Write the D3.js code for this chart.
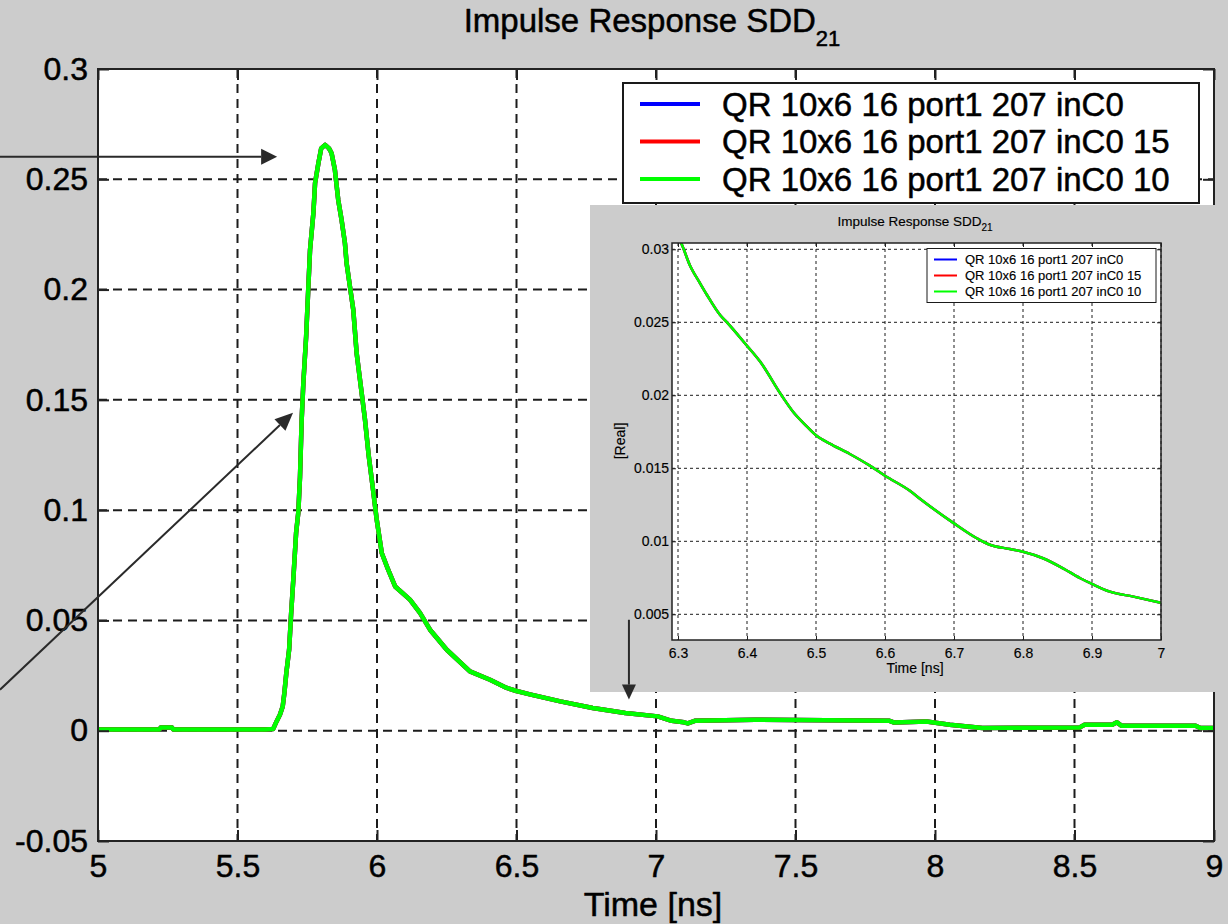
<!DOCTYPE html>
<html>
<head>
<meta charset="utf-8">
<script src="https://cdn.jsdelivr.net/npm/d3@7"></script>
<style>
  html, body { margin: 0; padding: 0; background: #cccccc; }
  svg { display: block; }
  text { font-family: "Liberation Sans", Arial, sans-serif; fill: #000; }
</style>
</head>
<body>
<svg id="chart" width="1228" height="924"></svg>
<script>
// ---- series ----
const seriesNames = [
  'QR 10x6 16 port1 207 inC0',
  'QR 10x6 16 port1 207 inC0 15',
  'QR 10x6 16 port1 207 inC0 10'
];
const seriesColors = ['#0000ff', '#ff0000', '#00ff00'];

// full time window, 5 .. 9 ns
const timeMain = [
  5.000, 5.220, 5.225, 5.265, 5.270, 5.600, 5.628, 5.640, 5.652, 5.662,
  5.668, 5.675, 5.685, 5.692, 5.700, 5.710, 5.718, 5.724, 5.730, 5.736,
  5.746, 5.754, 5.760, 5.772, 5.778, 5.790, 5.800, 5.814, 5.828, 5.837,
  5.849, 5.861, 5.873, 5.885, 5.891, 5.903, 5.915, 5.927, 5.945, 5.957,
  5.970, 5.985, 5.999, 6.017, 6.040, 6.065, 6.118, 6.154, 6.190, 6.250,
  6.333, 6.405, 6.465, 6.500, 6.548, 6.657, 6.773, 6.890, 7.006, 7.056,
  7.100, 7.114, 7.139, 7.355, 7.837, 7.854, 7.970, 8.053, 8.170, 8.519,
  8.536, 8.635, 8.652, 8.668, 8.934, 8.951, 9.000
];
const respMain = [
  0.0005, 0.0005, 0.0015, 0.0015, 0.0005, 0.0005, 0.0008, 0.0042, 0.0072, 0.0110,
  0.0171, 0.0262, 0.0367, 0.0526, 0.0685, 0.0896, 0.0990, 0.1150, 0.1410, 0.1576,
  0.1787, 0.2014, 0.2180, 0.2347, 0.2483, 0.2573, 0.2640, 0.2656, 0.2640, 0.2619,
  0.2543, 0.2407, 0.2316, 0.2211, 0.2120, 0.2014, 0.1908, 0.1712, 0.1531, 0.1410,
  0.1250, 0.1100, 0.0957, 0.0806, 0.0730, 0.0654, 0.0594, 0.0534, 0.0458, 0.0367,
  0.0269, 0.0231, 0.0194, 0.0180, 0.0165, 0.0133, 0.0103, 0.0080, 0.0065, 0.0045,
  0.0038, 0.0033, 0.0045, 0.0050, 0.0045, 0.0037, 0.0042, 0.0027, 0.0012, 0.0015,
  0.0027, 0.0027, 0.0038, 0.0023, 0.0023, 0.0012, 0.0012
];

// detail window, 6.3 .. 7 ns
const timeZoom = [
  6.300, 6.304, 6.317, 6.332, 6.342, 6.361, 6.371, 6.399, 6.419, 6.450,
  6.467, 6.484, 6.500, 6.520, 6.549, 6.578, 6.600, 6.636, 6.653, 6.700,
  6.733, 6.750, 6.781, 6.800, 6.829, 6.858, 6.883, 6.900, 6.926, 6.960, 7.000
];
const respZoom = [
  0.03080, 0.03048, 0.02893, 0.02767, 0.02687, 0.02550, 0.02500, 0.02345, 0.02231, 0.02000,
  0.01886, 0.01800, 0.01726, 0.01669, 0.01598, 0.01518, 0.01449, 0.01346, 0.01283, 0.01123,
  0.01021, 0.00980, 0.00947, 0.00929, 0.00884, 0.00815, 0.00747, 0.00708, 0.00655, 0.00621, 0.00579
];

// ---- ticks ----
const mainXTicks  = [5, 5.5, 6, 6.5, 7, 7.5, 8, 8.5, 9];
const mainXLabels = ['5', '5.5', '6', '6.5', '7', '7.5', '8', '8.5', '9'];
const mainYTicks  = [-0.05, 0, 0.05, 0.1, 0.15, 0.2, 0.25, 0.3];
const mainYLabels = ['-0.05', '0', '0.05', '0.1', '0.15', '0.2', '0.25', '0.3'];
const zoomXTicks  = [6.3, 6.4, 6.5, 6.6, 6.7, 6.8, 6.9, 7];
const zoomXLabels = ['6.3', '6.4', '6.5', '6.6', '6.7', '6.8', '6.9', '7'];
const zoomYTicks  = [0.005, 0.01, 0.015, 0.02, 0.025, 0.03];
const zoomYLabels = ['0.005', '0.01', '0.015', '0.02', '0.025', '0.03'];

const svg = d3.select('#chart');
svg.append('rect').attr('width', 1228).attr('height', 924).attr('fill', '#cccccc');

function buildSeries(values) {
  return seriesNames.map((name, i) => ({ name, color: seriesColors[i], values }));
}

// slightly heavier glyphs for the text
function ink(sel, w) {
  return sel.attr('stroke', '#000').attr('stroke-width', w).attr('stroke-linejoin', 'round');
}

function drawPanel(root, p) {
  const [x0, x1] = p.x.range();
  const [yb, yt] = p.y.range();
  const g = root.append('g');

  if (p.bg) {
    g.append('rect').attr('x', p.bg[0]).attr('y', p.bg[1])
      .attr('width', p.bg[2]).attr('height', p.bg[3]).attr('fill', '#cccccc');
  }
  g.append('rect').attr('x', x0).attr('y', yt).attr('width', x1 - x0).attr('height', yb - yt)
    .attr('fill', '#ffffff');

  // dashed grid
  const grid = g.append('g').attr('stroke', '#1c1c1c').attr('stroke-width', p.gridWidth)
    .attr('stroke-dasharray', p.gridDash).attr('fill', 'none');
  grid.selectAll('line.v').data(p.xTicks).join('line').attr('class', 'v')
    .attr('x1', d => p.x(d)).attr('x2', d => p.x(d)).attr('y1', yt).attr('y2', yb);
  grid.selectAll('line.h').data(p.yTicks).join('line').attr('class', 'h')
    .attr('x1', x0).attr('x2', x1).attr('y1', d => p.y(d)).attr('y2', d => p.y(d));

  // traces
  const clipId = p.id + '-clip';
  g.append('clipPath').attr('id', clipId).append('rect')
    .attr('x', x0).attr('y', yt).attr('width', x1 - x0).attr('height', yb - yt);
  const line = d3.line().x((d, i) => p.x(p.time[i])).y(d => p.y(d)).curve(p.curve);
  g.append('g').attr('clip-path', `url(#${clipId})`)
    .selectAll('path').data(p.series).join('path')
    .attr('d', s => line(s.values))
    .attr('fill', 'none').attr('stroke', s => s.color)
    .attr('stroke-width', p.lineWidth).attr('stroke-linejoin', 'round');

  // axes with inward ticks on all four sides
  const fmt = labels => (d, i) => labels[i];
  const none = () => '';
  const axes = [
    { a: d3.axisBottom(p.x).tickValues(p.xTicks).tickFormat(fmt(p.xLabels)).tickPadding(p.xPad), t: `translate(0,${yb})` },
    { a: d3.axisTop(p.x).tickValues(p.xTicks).tickFormat(none), t: `translate(0,${yt})` },
    { a: d3.axisLeft(p.y).tickValues(p.yTicks).tickFormat(fmt(p.yLabels)).tickPadding(p.yPad), t: `translate(${x0},0)` },
    { a: d3.axisRight(p.y).tickValues(p.yTicks).tickFormat(none), t: `translate(${x1},0)` }
  ];
  axes.forEach(({ a, t }) => {
    const ag = g.append('g').attr('transform', t)
      .call(a.tickSizeInner(-p.tickLen).tickSizeOuter(0));
    ag.select('.domain').remove();
    ag.selectAll('.tick line').attr('stroke', '#222').attr('stroke-width', p.tickWidth);
    ink(ag.selectAll('.tick text').attr('font-size', p.fontSize)
      .attr('font-family', '"Liberation Sans", Arial, sans-serif').attr('fill', '#000'), p.ink);
  });

  // frame
  g.append('rect').attr('x', x0).attr('y', yt).attr('width', x1 - x0).attr('height', yb - yt)
    .attr('fill', 'none').attr('stroke', '#222').attr('stroke-width', p.frameWidth);

  // title with subscript
  const title = ink(g.append('text').attr('x', p.titleX).attr('y', p.titleY)
    .attr('text-anchor', 'middle').attr('font-size', p.titleSize), p.ink);
  title.append('tspan').text('Impulse Response SDD');
  title.append('tspan').attr('font-size', p.subSize).attr('dy', p.subShift).text('21');

  // axis labels
  ink(g.append('text').attr('x', p.xLabelX).attr('y', p.xLabelY).attr('text-anchor', 'middle')
    .attr('font-size', p.labelSize).text('Time [ns]'), p.ink);
  if (p.yLabel) {
    ink(g.append('text').attr('transform', `translate(${p.yLabelX},${p.yLabelY}) rotate(-90)`)
      .attr('text-anchor', 'middle').attr('font-size', p.labelSize).text(p.yLabel), p.ink);
  }

  // legend
  const L = p.legend;
  const lg = g.append('g');
  lg.append('rect').attr('x', L.x).attr('y', L.y).attr('width', L.w).attr('height', L.h)
    .attr('fill', '#fff').attr('stroke', '#1a1a1a').attr('stroke-width', L.border);
  const rows = lg.selectAll('g.row').data(p.series).join('g').attr('class', 'row')
    .attr('transform', (d, i) => `translate(0,${L.row0 + i * L.step})`);
  rows.append('line').attr('x1', L.lx0).attr('x2', L.lx1).attr('y1', 0).attr('y2', 0)
    .attr('stroke', d => d.color).attr('stroke-width', L.lw);
  ink(rows.append('text').attr('x', L.tx).attr('dy', '0.35em').attr('font-size', L.fs)
    .text(d => d.name), p.ink);
}

// ---- full view ----
drawPanel(svg, {
  id: 'main',
  x: d3.scaleLinear().domain([5, 9]).range([98, 1214]),
  y: d3.scaleLinear().domain([-0.05, 0.3]).range([841, 69]),
  time: timeMain, series: buildSeries(respMain), curve: d3.curveLinear,
  xTicks: mainXTicks, xLabels: mainXLabels, yTicks: mainYTicks, yLabels: mainYLabels,
  gridDash: '9,6', gridWidth: 2, tickLen: 11, tickWidth: 2, frameWidth: 2,
  lineWidth: 4.5, fontSize: 32, xPad: 13, yPad: 10, ink: 0.5,
  titleX: 652, titleY: 32, titleSize: 33, subSize: 22, subShift: 14,
  xLabelX: 653, xLabelY: 916, labelSize: 34,
  legend: { x: 623, y: 83, w: 576, h: 120, border: 2, row0: 104, step: 37.5,
            lx0: 640, lx1: 700, lw: 4, tx: 722, fs: 33 }
});

// ---- detail view 6.3 .. 7 ns ----
drawPanel(svg, {
  id: 'zoom', bg: [590, 205, 638, 487],
  x: d3.scaleLinear().domain([6.2913, 7.0]).range([672, 1161]),
  y: d3.scaleLinear().domain([0.00324, 0.030432]).range([640, 243]),
  time: timeZoom, series: buildSeries(respZoom), curve: d3.curveMonotoneX,
  xTicks: zoomXTicks, xLabels: zoomXLabels, yTicks: zoomYTicks, yLabels: zoomYLabels,
  gridDash: '3,3', gridWidth: 1, tickLen: 4, tickWidth: 1, frameWidth: 1.5,
  lineWidth: 2.5, fontSize: 14, xPad: 8, yPad: 3, ink: 0.15,
  titleX: 915, titleY: 226, titleSize: 13.5, subSize: 10, subShift: 5,
  xLabelX: 915, xLabelY: 673, labelSize: 14,
  yLabel: '[Real]', yLabelX: 625, yLabelY: 441,
  legend: { x: 927, y: 248.5, w: 229, h: 54, border: 1, row0: 259.5, step: 16,
            lx0: 934, lx1: 957, lw: 2, tx: 965, fs: 13 }
});

// ---- callout arrows (tail and tip in full-view units) ----
const mx = d3.scaleLinear().domain([5, 9]).range([98, 1214]);
const my = d3.scaleLinear().domain([-0.05, 0.3]).range([841, 69]);
const arrows = [
  { from: [4.6487, 0.2602], to: [5.642, 0.2602], len: 16, half: 8 },
  { from: [4.6487, 0.0186], to: [5.699, 0.1442], len: 18, half: 8 },
  { from: [6.903, 0.0503], to: [6.903, 0.0141], len: 15, half: 7 }
];
const ag = svg.append('g');
arrows.forEach(a => {
  const x1 = mx(a.from[0]), y1 = my(a.from[1]);
  const x2 = mx(a.to[0]), y2 = my(a.to[1]);
  const ang = Math.atan2(y2 - y1, x2 - x1);
  const bx = x2 - a.len * Math.cos(ang), by = y2 - a.len * Math.sin(ang);
  const nx = -Math.sin(ang) * a.half, ny = Math.cos(ang) * a.half;
  ag.append('line').attr('x1', x1).attr('y1', y1).attr('x2', bx).attr('y2', by)
    .attr('stroke', '#2a2a2a').attr('stroke-width', 2);
  ag.append('path')
    .attr('d', `M${x2},${y2}L${bx + nx},${by + ny}L${bx - nx},${by - ny}Z`)
    .attr('fill', '#2a2a2a');
});
</script>
</body>
</html>
